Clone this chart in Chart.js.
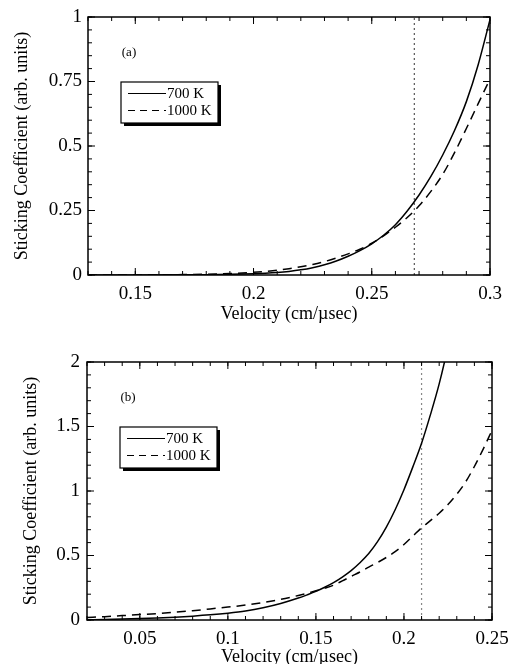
<!DOCTYPE html>
<html><head><meta charset="utf-8">
<script src="https://cdn.jsdelivr.net/npm/chart.js@4/dist/chart.umd.min.js"></script>
<style>
html,body{margin:0;padding:0;background:#fff;overflow:hidden;width:509px;height:664px;position:relative;}
canvas{position:absolute;left:0;}
#ca{top:0}
#cb{top:330px}
</style></head><body>
<canvas id="ca" width="509" height="330"></canvas>
<canvas id="cb" width="509" height="350"></canvas>
<script>
// ---- Panel (a) data ----
const velocityA  = [0.13, 0.15, 0.17, 0.18, 0.19, 0.2, 0.205, 0.21, 0.215, 0.22, 0.225, 0.23, 0.235, 0.24, 0.245, 0.25, 0.255, 0.26, 0.265, 0.27, 0.275, 0.28, 0.285, 0.29, 0.295, 0.3];
const stick700A  = [0, 0, 0.0006, 0.0013, 0.0026, 0.0048, 0.0067, 0.0095, 0.0138, 0.02, 0.0285, 0.0395, 0.054, 0.0725, 0.0945, 0.121, 0.154, 0.195, 0.248, 0.31, 0.382, 0.465, 0.56, 0.672, 0.815, 0.99];
const stick1000A = [0, 0.0003, 0.0015, 0.003, 0.0058, 0.0105, 0.014, 0.0185, 0.0245, 0.032, 0.041, 0.052, 0.066, 0.082, 0.1, 0.123, 0.152, 0.185, 0.223, 0.268, 0.324, 0.39, 0.474, 0.568, 0.664, 0.76];
const markerA = [0.268];
const xTicksA = [0.15, 0.2, 0.25, 0.3];
const yTicksA = [0, 0.25, 0.5, 0.75, 1];

// ---- Panel (b) data ----
const velocityB  = [0.02, 0.03, 0.04, 0.05, 0.06, 0.07, 0.08, 0.09, 0.1, 0.11, 0.12, 0.13, 0.14, 0.145, 0.15, 0.155, 0.16, 0.165, 0.17, 0.175, 0.18, 0.185, 0.19, 0.195, 0.2, 0.205, 0.21, 0.215, 0.22, 0.225, 0.23, 0.235, 0.24, 0.245, 0.25];
const stick700B  = [0.002, 0.004, 0.007, 0.011, 0.016, 0.022, 0.03, 0.04, 0.053, 0.07, 0.095, 0.128, 0.17, 0.195, 0.222, 0.254, 0.29, 0.333, 0.383, 0.444, 0.515, 0.607, 0.72, 0.855, 1.01, 1.185, 1.37, 1.59, 1.83, 2.12, 2.45, null, null, null, null];
const stick1000B = [0.02, 0.026, 0.034, 0.042, 0.05, 0.06, 0.072, 0.086, 0.1, 0.116, 0.136, 0.16, 0.19, 0.207, 0.226, 0.247, 0.27, 0.303, 0.338, 0.372, 0.41, 0.446, 0.485, 0.53, 0.585, 0.65, 0.715, 0.77, 0.828, 0.895, 0.975, 1.07, 1.19, 1.325, 1.47];
const markerB = [0.21];
const xTicksB = [0.05, 0.1, 0.15, 0.2, 0.25];
const yTicksB = [0, 0.5, 1, 1.5, 2];

const seriesLabels = ['700 K', '1000 K'];
const panelLabels = ['(a)', '(b)'];
const axisTitleX = 'Velocity (cm/\u00B5sec)';
const axisTitleY = 'Sticking Coefficient (arb. units)';

const FONT = '"Liberation Serif", "Times New Roman", serif';

const deco = {
  id: 'deco',
  afterDraw(chart, args, o) {
    const {ctx, chartArea: a, scales: {x, y}} = chart;
    const line = (x1, y1, x2, y2) => { ctx.beginPath(); ctx.moveTo(x1, y1); ctx.lineTo(x2, y2); ctx.stroke(); };
    ctx.save();
    ctx.strokeStyle = '#000';
    ctx.setLineDash([]);
    ctx.lineWidth = 1.5;
    ctx.strokeRect(a.left, a.top, a.right - a.left, a.bottom - a.top);
    ctx.lineWidth = 1;
    const xt = (v, len) => { const p = x.getPixelForValue(v); line(p, a.bottom, p, a.bottom - len); line(p, a.top, p, a.top + len); };
    const yt = (v, len) => { const p = y.getPixelForValue(v); line(a.left, p, a.left + len, p); line(a.right, p, a.right - len, p); };
    for (let i = 0; ; i++) { const v = o.xMinorStart + i * o.xMinor; if (v > x.max + 1e-9) break; xt(v, 4); }
    for (let i = 0; ; i++) { const v = y.min + i * o.yMinor; if (v > y.max + 1e-9) break; yt(v, 4); }
    x.ticks.forEach(t => xt(t.value, 7));
    y.ticks.forEach(t => yt(t.value, 7));
    // panel label
    ctx.fillStyle = '#000';
    ctx.font = '13px ' + FONT;
    ctx.textAlign = 'center';
    ctx.textBaseline = 'middle';
    ctx.fillText(o.panel, a.left + 41, a.top + 36);
    // legend
    const lx = a.left + 33, ly = a.top + 65, w = 97, h = 41;
    ctx.fillStyle = '#000';
    ctx.fillRect(lx + 3, ly + 3, w, h);
    ctx.fillStyle = '#fff';
    ctx.fillRect(lx, ly, w, h);
    ctx.lineWidth = 1.2;
    ctx.strokeRect(lx, ly, w, h);
    ctx.textAlign = 'left';
    ctx.font = '15px ' + FONT;
    chart.data.datasets.filter(d => d.label).forEach((d, i) => {
      const yy = ly + 11.5 + i * 17;
      ctx.setLineDash(d.borderDash ? [7, 5] : []);
      ctx.lineWidth = 1.2;
      line(lx + 7, yy, lx + 45, yy);
      ctx.setLineDash([]);
      ctx.fillStyle = '#000';
      ctx.fillText(d.label, lx + 46, yy + 1);
    });
    ctx.restore();
  }
};

function makeChart(id, cfg) {
  const pts = (xs, ys) => xs.map((x, i) => ({x, y: ys[i]}));
  const yMin = cfg.yTicks[0], yMax = cfg.yTicks[cfg.yTicks.length - 1];
  return new Chart(document.getElementById(id), {
    type: 'line',
    data: {
      datasets: [
        {label: seriesLabels[0], data: pts(cfg.vel, cfg.s700), borderColor: '#000', borderWidth: 1.5, pointRadius: 0, cubicInterpolationMode: 'monotone', fill: false, spanGaps: false},
        {label: seriesLabels[1], data: pts(cfg.vel, cfg.s1000), borderColor: '#000', borderWidth: 1.5, borderDash: [9, 6], pointRadius: 0, cubicInterpolationMode: 'monotone', fill: false},
        {label: '', data: [{x: cfg.marker[0], y: yMin}, {x: cfg.marker[0], y: yMax}], borderColor: cfg.markerColor, borderWidth: 1.2, borderDash: [2, 3], pointRadius: 0, fill: false}
      ]
    },
    options: {
      responsive: false,
      animation: false,
      devicePixelRatio: 1,
      layout: {padding: cfg.pad},
      plugins: {legend: {display: false}, tooltip: {enabled: false}, deco: {panel: cfg.panel, xMinor: 0.01, xMinorStart: cfg.xMin, yMinor: cfg.yMinor}},
      scales: {
        x: {
          type: 'linear', min: cfg.xMin, max: cfg.xMax,
          grid: {display: false, drawTicks: false}, border: {display: false},
          afterBuildTicks: s => { s.ticks = cfg.xTicks.map(v => ({value: v})); },
          afterFit: s => { s.height = cfg.xAxisH; s.paddingLeft = 0; s.paddingRight = 0; },
          ticks: {color: '#000', font: {family: FONT, size: 19}, padding: 8, maxRotation: 0, autoSkip: false, callback: v => String(v)},
          title: {display: true, text: axisTitleX, color: '#000', font: {family: FONT, size: 18}, padding: {top: 0, bottom: cfg.xTitlePad}}
        },
        y: {
          type: 'linear', min: yMin, max: yMax,
          grid: {display: false, drawTicks: false}, border: {display: false},
          afterBuildTicks: s => { s.ticks = cfg.yTicks.map(v => ({value: v})); },
          afterFit: s => { s.width = cfg.yAxisW; s.paddingTop = 0; s.paddingBottom = 0; },
          ticks: {color: '#000', font: {family: FONT, size: 19}, padding: cfg.yTickPad, autoSkip: false, callback: v => String(v)},
          title: {display: true, text: axisTitleY, color: '#000', font: {family: FONT, size: 18}, padding: {top: cfg.yTitlePad, bottom: 0}}
        }
      }
    },
    plugins: [deco]
  });
}

makeChart('ca', {
  vel: velocityA, s700: stick700A, s1000: stick1000A, marker: markerA, markerColor: '#555',
  xTicks: xTicksA, yTicks: yTicksA, xMin: 0.13, xMax: 0.3, yMinor: 0.05,
  panel: panelLabels[0],
  pad: {left: 0, top: 17, right: 19, bottom: 0},
  xAxisH: 55, yAxisW: 88, xTitlePad: 5, yTitlePad: 11, yTickPad: 6
});
makeChart('cb', {
  vel: velocityB, s700: stick700B, s1000: stick1000B, marker: markerB, markerColor: '#888',
  xTicks: xTicksB, yTicks: yTicksB, xMin: 0.02, xMax: 0.25, yMinor: 0.1,
  panel: panelLabels[1],
  pad: {left: 0, top: 32, right: 17, bottom: 0},
  xAxisH: 60, yAxisW: 87, xTitlePad: 12, yTitlePad: 20, yTickPad: 7
});
</script>
</body></html>
